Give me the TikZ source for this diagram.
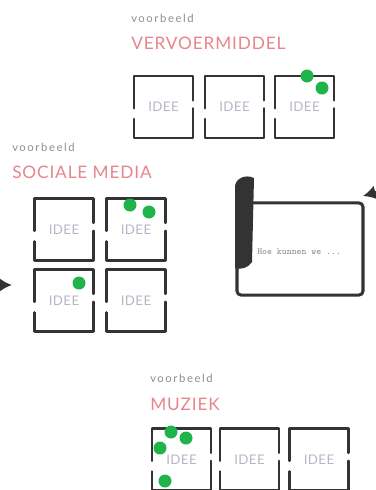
\documentclass[tikz,border=0pt]{standalone}
\usepackage{fontspec}
\setmainfont{Lato}
\usetikzlibrary{arrows.meta}

\definecolor{sketch}{HTML}{333333}
\definecolor{titel}{HTML}{E8848C}
\definecolor{sub}{HTML}{8C8C94}
\definecolor{ideegrijs}{HTML}{B4B7C6}
\definecolor{stip}{HTML}{1FB34A}

\tikzset{
  voorbeeld/.style={anchor=west, inner sep=0pt, text=sub, font=\fontsize{8.5}{10}\selectfont\addfontfeature{LetterSpace=14}},
  titel/.style={anchor=west, inner sep=0pt, text=titel, font=\fontsize{13}{15}\selectfont\addfontfeature{LetterSpace=5}},
  idee/.style={minimum width=1.54cm, minimum height=1.62cm, inner sep=0pt, text=ideegrijs, font=\fontsize{10}{12}\selectfont\addfontfeature{LetterSpace=3}},
  lijn/.style={sketch, line width=1.9pt, line cap=round, line join=round},
  stem/.style={stip},
}

\begin{document}
\begin{tikzpicture}[x=0.0265cm, y=-0.0265cm, >=Latex]

    % canvas
    \useasboundingbox (0,0) rectangle (376,490);
    \clip (0,0) rectangle (376,490);

    % headings
    \node[voorbeeld] (vb1) at (131,18) {voorbeeld};
    \node[titel] (vervoer) at (131,43) {VERVOERMIDDEL};
    \node[voorbeeld] (vb2) at (12,147) {voorbeeld};
    \node[titel] (sociaal) at (12,172) {SOCIALE MEDIA};
    \node[voorbeeld] (vb3) at (150,378) {voorbeeld};
    \node[titel] (muziek) at (150,404) {MUZIEK};

    % idea boxes
    \node[idee] (v1) at (163.5,107) {IDEE};
    \node[idee] (v2) at (234.5,107) {IDEE};
    \node[idee] (v3) at (304.5,107) {IDEE};
    \node[idee] (s1) at (64,229.5) {IDEE};
    \node[idee] (s2) at (136,229.5) {IDEE};
    \node[idee] (s3) at (64,300.5) {IDEE};
    \node[idee] (s4) at (136,300.5) {IDEE};
    \node[idee] (m1) at (181.5,459.5) {IDEE};
    \node[idee] (m2) at (249.5,459.5) {IDEE};
    \node[idee] (m3) at (319,459.5) {IDEE};

    % open sketchy borders
    \foreach \b in {v1,v2,v3,s1,s2,s3,s4,m1,m2,m3} {
      \draw[lijn] ([yshift=-1pt]\b.west) -- (\b.north west) -- (\b.north east) -- ([yshift=5pt]\b.east);
      \draw[lijn] ([yshift=-9pt]\b.west) -- (\b.south west) -- (\b.south east) -- ([yshift=-1pt]\b.east);
    }

    % votes
    \fill[stem] (307,76) circle (6.5);
    \fill[stem] (322,88) circle (6.5);
    \fill[stem] (130,205) circle (6.5);
    \fill[stem] (149,212) circle (6.5);
    \fill[stem] (79,283) circle (6.5);
    \fill[stem] (171,432) circle (6.5);
    \fill[stem] (186,438) circle (6.5);
    \fill[stem] (160,448) circle (6.5);
    \fill[stem] (165,481) circle (6.5);

    % question frame
    \node[draw=sketch, line width=2.3pt, rounded corners=3pt, minimum width=3.34cm, minimum height=2.44cm] (vraag) at (300,249) {};
    \fill[sketch] (235,268) -- (235,186) .. controls (236,178) and (246,174) .. (254,178)
      -- (252,262) .. controls (248,268) and (241,270) .. (235,268) -- cycle;
    \node[anchor=west, inner sep=0pt, text=sub, font=\ttfamily\fontsize{7}{8}\selectfont] (vraagtekst) at (257,252) {Hoe kunnen we ...};

    % arrows coming in from outside
    \coordinate (inL) at (-30,285);
    \coordinate (tipL) at (12,285);
    \draw[sketch, line width=2pt, -{Latex[length=0.34cm,width=0.38cm]}] (inL) -- (tipL);
    \coordinate (inR) at (410,183);
    \coordinate (tipR) at (363,196);
    \draw[sketch, line width=2pt, -{Latex[length=0.34cm,width=0.38cm]}] (inR) -- (tipR);

\end{tikzpicture}
\end{document}
